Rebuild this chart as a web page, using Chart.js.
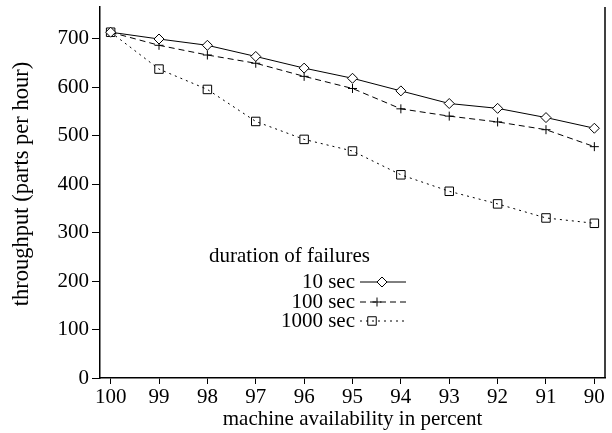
<!DOCTYPE html>
<html>
<head>
<meta charset="utf-8">
<script src="https://cdn.jsdelivr.net/npm/chart.js@4/dist/chart.umd.min.js"></script>
<style>
  body { margin: 0; background: #fff; }
  canvas { display: block; }
</style>
</head>
<body>
<canvas id="chart" width="612" height="433"></canvas>
<script>
// machine availability (percent)
const availability = [100, 99, 98, 97, 96, 95, 94, 93, 92, 91, 90];
// throughput per failure duration
const tenSec = [713, 699, 686, 663, 639, 618, 592, 566, 556, 537, 515];
const hundredSec = [713, 686, 666, 649, 622, 597, 555, 540, 528, 512, 477];
const thousandSec = [713, 637, 595, 529, 492, 468, 419, 385, 359, 330, 319];
const yTicks = [0, 100, 200, 300, 400, 500, 600, 700];
const seriesNames = ['10 sec', '100 sec', '1000 sec'];
const legendTitle = 'duration of failures';
const yTitle = 'throughput (parts per hour)';

const FONT = "'Liberation Serif', 'Times New Roman', serif";
const fontSize = 21;

function points(vals) {
  return availability.map((x, i) => ({ x: x, y: vals[i] }));
}

const styles = [
  { pointStyle: 'rectRot', pointRadius: 5, borderDash: [], pointBackgroundColor: '#fff' },
  { pointStyle: 'cross', pointRadius: 4.5, borderDash: [6, 4], pointBackgroundColor: 'rgba(0,0,0,0)' },
  { pointStyle: 'rect', pointRadius: 6, borderDash: [2, 4], pointBackgroundColor: 'rgba(0,0,0,0)' }
];

const datasets = [tenSec, hundredSec, thousandSec].map((vals, i) => ({
  label: seriesNames[i],
  data: points(vals),
  borderColor: '#000',
  borderWidth: 1,
  borderDash: styles[i].borderDash,
  pointStyle: styles[i].pointStyle,
  pointRadius: styles[i].pointRadius,
  pointBorderColor: '#000',
  pointBorderWidth: 1,
  pointBackgroundColor: styles[i].pointBackgroundColor,
  tension: 0
}));

// right frame line, y title and legend drawn by hand (text left of sample)
const framePlugin = {
  id: 'frame',
  afterDraw(chart) {
    const ctx = chart.ctx;
    const a = chart.chartArea;
    ctx.save();
    ctx.strokeStyle = '#000';
    ctx.lineWidth = 1.5;
    ctx.beginPath();
    ctx.moveTo(a.right, a.top);
    ctx.lineTo(a.right, a.bottom);
    ctx.stroke();

    ctx.fillStyle = '#000';
    ctx.textBaseline = 'middle';
    ctx.textAlign = 'center';
    ctx.save();
    ctx.translate(22, 184);
    ctx.rotate(-Math.PI / 2);
    ctx.font = '22.5px ' + FONT;
    ctx.fillText(yTitle, 0, 0);
    ctx.restore();

    ctx.font = fontSize + 'px ' + FONT;
    ctx.textAlign = 'left';
    ctx.fillText(legendTitle, 209, 256);

    const rowY = [282, 302, 321];
    const markX = [382, 377, 372];
    ctx.textAlign = 'right';
    for (let i = 0; i < 3; i++) {
      const y = rowY[i];
      ctx.fillStyle = '#000';
      ctx.fillText(seriesNames[i], 355, y);
      ctx.strokeStyle = '#000';
      ctx.setLineDash(styles[i].borderDash);
      ctx.lineWidth = 1;
      ctx.beginPath();
      ctx.moveTo(360, y);
      ctx.lineTo(406, y);
      ctx.stroke();
      ctx.setLineDash([]);
      ctx.fillStyle = styles[i].pointBackgroundColor;
      Chart.helpers.drawPoint(ctx, {
        pointStyle: styles[i].pointStyle,
        radius: styles[i].pointRadius,
        rotation: 0,
        borderWidth: 1
      }, markX[i], y);
    }
    ctx.restore();
  }
};

const tickFont = { family: FONT, size: fontSize };

new Chart(document.getElementById('chart').getContext('2d'), {
  type: 'line',
  data: { datasets: datasets },
  options: {
    responsive: false,
    animation: false,
    layout: { padding: { top: 0, right: 2, left: 0, bottom: 0 } },
    plugins: { legend: { display: false }, tooltip: { enabled: false } },
    scales: {
      x: {
        type: 'linear',
        reverse: true,
        min: 89.78,
        max: 100.22,
        afterBuildTicks: s => { s.ticks = availability.map(v => ({ value: v })); },
        afterFit: s => { s.height = 55; s.paddingLeft = 0; s.paddingRight = 0; },
        ticks: { font: tickFont, color: '#000', padding: 1, autoSkip: false, maxRotation: 0 },
        grid: { drawOnChartArea: false, tickLength: 6, color: '#000', lineWidth: 1 },
        border: { color: '#000', width: 1.5 },
        title: { display: true, text: 'machine availability in percent', font: tickFont, color: '#000', padding: { top: 0, bottom: 1 } }
      },
      y: {
        min: 0,
        max: 765,
        afterBuildTicks: s => { s.ticks = yTicks.map(v => ({ value: v })); },
        afterFit: s => { s.width = 100; s.paddingTop = 0; s.paddingBottom = 0; },
        ticks: { font: tickFont, color: '#000', padding: 3 },
        grid: { drawOnChartArea: false, tickLength: 8, color: '#000', lineWidth: 1 },
        border: { color: '#000', width: 1.5 }
      }
    }
  },
  plugins: [framePlugin]
});
</script>
</body>
</html>
